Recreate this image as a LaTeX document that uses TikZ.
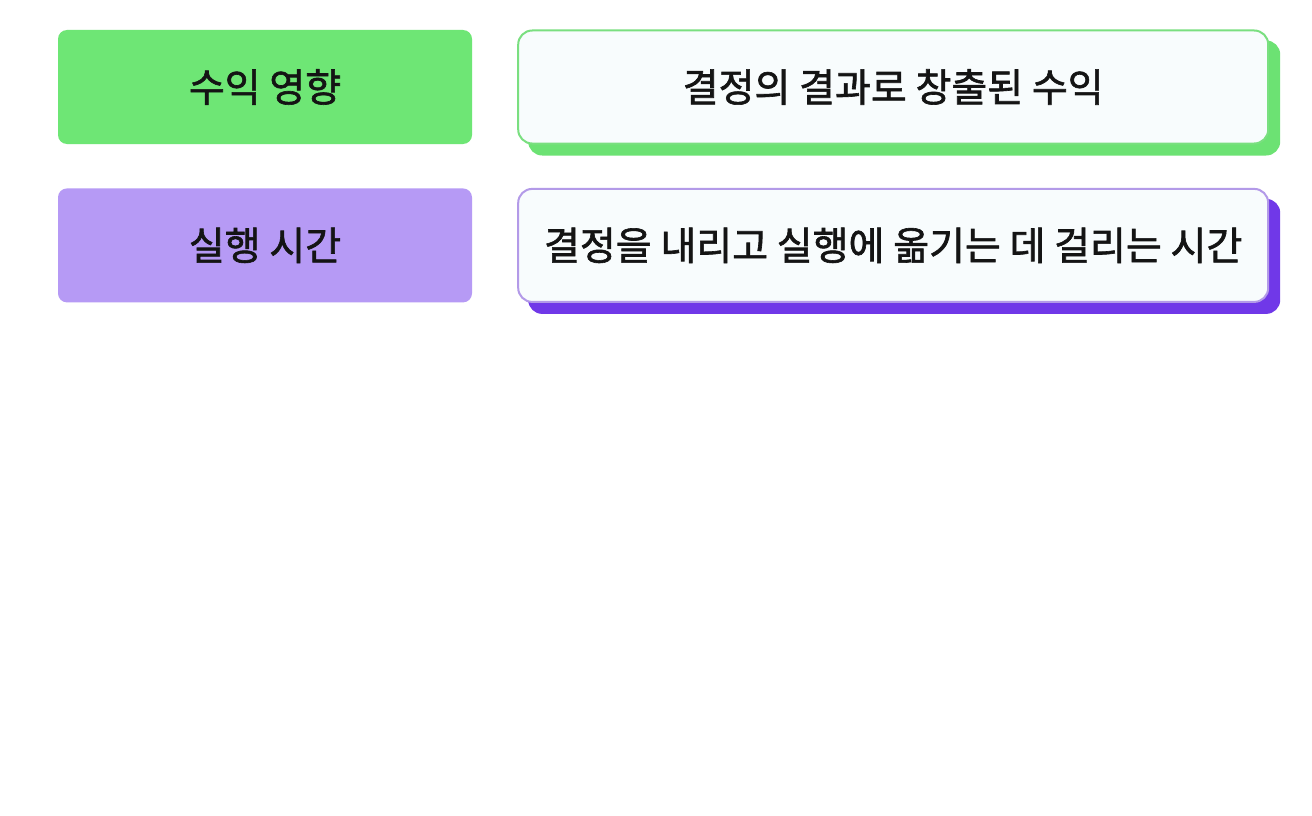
\documentclass[tikz,border=0pt]{standalone}
\usepackage{fontspec}
\setmainfont{Noto Sans CJK KR}
\newfontfamily\mediumfont[FakeBold=1.6]{Noto Sans CJK KR}
\usepackage{xcolor}
\usetikzlibrary{positioning}
\definecolor{labelgreen}{HTML}{6EE675}
\definecolor{labelpurple}{HTML}{B69AF5}
\definecolor{edgegreen}{HTML}{7ADF80}
\definecolor{edgepurple}{HTML}{B39AE8}
\definecolor{shadegreen}{HTML}{6CE273}
\definecolor{shadepurple}{HTML}{7038E8}
\definecolor{cardfill}{HTML}{F8FCFD}
\tikzset{
    x=1pt, y=-1pt, % one unit per pixel of the page
    node distance=44pt and 45pt, % gaps between rows and columns
    labelbox/.style={rounded corners=9pt, minimum width=414pt, minimum height=114pt, inner sep=0pt, font=\fontsize{39}{44}\mediumfont, text=black!92}, % left coloured boxes
    cardbox/.style={rounded corners=14pt, draw, line width=2pt, fill=cardfill, minimum width=750pt, minimum height=113pt, inner sep=0pt, font=\fontsize{39}{44}\mediumfont, text=black!92}, % right white boxes
}
\def\cardshadow#1#2{\fill[#2, rounded corners=14pt] ([shift={(11,11)}]#1.north west) rectangle ([shift={(11,11)}]#1.south east);}

\begin{document}
\begin{tikzpicture}
        \useasboundingbox[fill=white] (0,0) rectangle (1312,816);
        % first row
        \node[labelbox, fill=labelgreen] (revenue) at (265,87) {수익 영향};
        \node[cardbox, draw=edgegreen, right=of revenue, opacity=0] (revenuecard) {결정의 결과로 창출된 수익};
        \cardshadow{revenuecard}{shadegreen}
        \node[cardbox, draw=edgegreen] at (revenuecard) {결정의 결과로 창출된 수익};
        % second row
        \node[labelbox, fill=labelpurple, below=of revenue] (exectime) {실행 시간};
        \node[cardbox, draw=edgepurple, right=of exectime, opacity=0] (timecard) {결정을 내리고 실행에 옮기는 데 걸리는 시간};
        \cardshadow{timecard}{shadepurple}
        \node[cardbox, draw=edgepurple] at (timecard) {결정을 내리고 실행에 옮기는 데 걸리는 시간};
    \end{tikzpicture}
\end{document}
